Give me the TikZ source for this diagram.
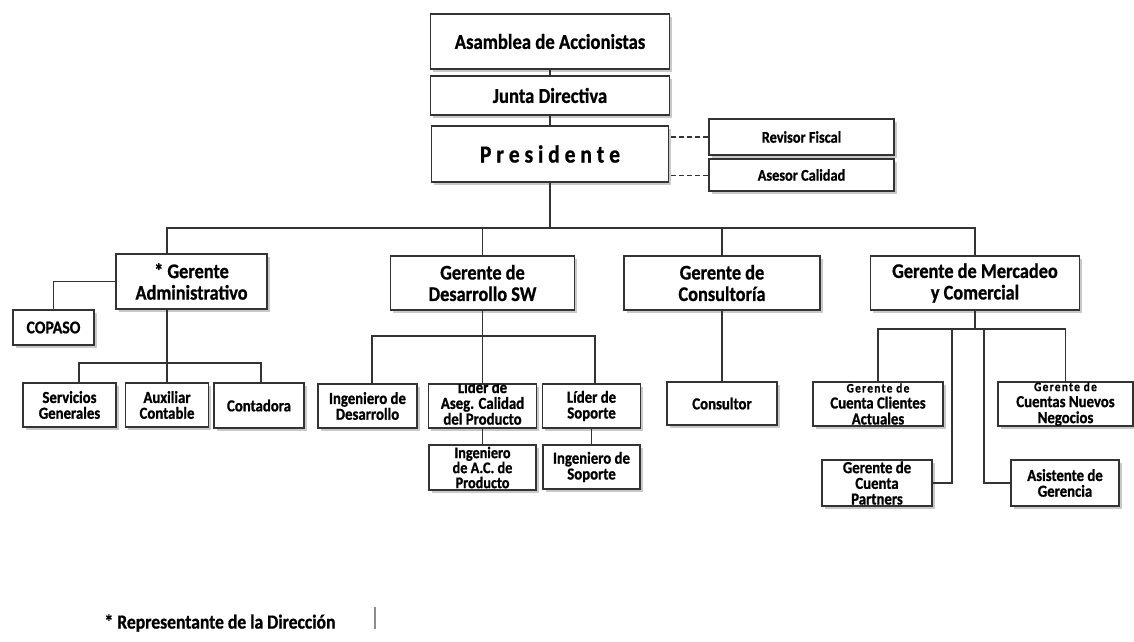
\documentclass[tikz,border=0pt]{standalone}
\usepackage{fontspec}
\setmainfont{Carlito}[FakeStretch=0.88, BoldFeatures={FakeBold=0.9}]
\usetikzlibrary{shadows}

\tikzset{
  rotulo/.style={inner sep=0pt, align=center, font=\fontsize{16.8}{15.8}\selectfont\bfseries},
  caja/.style={draw=black!80, line width=1.3pt, fill=white, rotulo,
    drop shadow={shadow xshift=2.5pt, shadow yshift=-2.5pt, fill=black!60, opacity=.35}},
  cima/.style={caja, font=\fontsize{21.2}{20}\selectfont\bfseries},
  asesoria/.style={caja, font=\fontsize{16.3}{16}\selectfont\bfseries},
  gerencia/.style={caja, minimum height=54, font=\fontsize{20.8}{21.5}\selectfont\bfseries},
  cargo/.style={caja, minimum height=44},
  linea/.style={draw=black!80, line width=1.3pt},
}

\begin{document}
\begin{tikzpicture}[x=1pt,y=-1pt]
    \path[use as bounding box, fill=white] (0,0) rectangle (1134,641);

    \node[cima, minimum width=239, minimum height=55] (asamblea) at (550,41.5) {Asamblea de Accionistas};
    \node[cima, minimum width=239, minimum height=39] (junta) at (550,95.5) {Junta Directiva};
    \node[cima, minimum width=237, minimum height=56, font=\fontsize{24.5}{24}\selectfont\bfseries] (presidente) at (550,154) {P r e s i d e n t e};
    \node[asesoria, minimum width=185, minimum height=36] (revisor) at (801.5,137) {Revisor Fiscal};
    \node[asesoria, minimum width=185, minimum height=32] (asesor) at (801.5,175) {Asesor Calidad};

    \node[gerencia, minimum width=151, minimum height=55] (gadmin) at (191.5,281.5) {* Gerente\\Administrativo};
    \node[gerencia, minimum width=184] (gdesarrollo) at (482.5,283) {Gerente de\\Desarrollo SW};
    \node[gerencia, minimum width=196] (gconsult) at (722,283) {Gerente de\\Consultoría};
    \node[gerencia, minimum width=209] (gmercadeo) at (975,283) {Gerente de Mercadeo\\y Comercial};

    \node[caja, minimum width=81, minimum height=35, font=\fontsize{17.9}{18}\selectfont\bfseries] (copaso) at (53.5,327.5) {COPASO};
    \node[cargo, minimum width=93] (servicios) at (69.5,405) {Servicios\\Generales};
    \node[cargo, minimum width=83] (auxiliar) at (167,405) {Auxiliar\\Contable};
    \node[cargo, minimum width=90, minimum height=45] (contadora) at (259,405.5) {Contadora};

    \node[cargo, minimum width=99] (ingdes) at (367.5,406) {Ingeniero de\\Desarrollo};
    \node[cargo, minimum width=108] (lideraseg) at (482.5,406) {};
    \begin{scope}
        \clip ([xshift=.7pt,yshift=.7pt]lideraseg.south west) rectangle ([xshift=-.7pt,yshift=-.7pt]lideraseg.north east);
        \node[rotulo] (lideraseg-txt) at (482.5,403) {Líder de\\Aseg. Calidad\\del Producto};
    \end{scope}
    \node[cargo, minimum width=98] (lidersop) at (591.5,406) {Líder de\\Soporte};
    \node[cargo, minimum width=107, minimum height=45, font=\fontsize{16.2}{15}\selectfont\bfseries] (ingac) at (482.5,467.5) {Ingeniero\\de A.C. de\\Producto};
    \node[cargo, minimum width=97] (ingsop) at (591.5,467) {Ingeniero de\\Soporte};

    \node[cargo, minimum width=110, minimum height=43] (consultor) at (722,403.5) {Consultor};

    \node[cargo, minimum width=130, font=\fontsize{16.8}{16}\selectfont\bfseries] (clientes) at (878,404) {{\fontsize{12.9}{16}\selectfont\addfontfeatures{LetterSpace=10}Gerente de}\\Cuenta Clientes\\Actuales};
    \node[cargo, minimum width=135, font=\fontsize{16.8}{16}\selectfont\bfseries] (nuevos) at (1065.5,404) {{\fontsize{12.9}{16}\selectfont\addfontfeatures{LetterSpace=10}Gerente de}\\Cuentas Nuevos\\Negocios};
    \node[cargo, minimum width=110, minimum height=46, font=\fontsize{16.8}{15.7}\selectfont\bfseries] (partners) at (877,483) {Gerente de\\Cuenta\\Partners};
    \node[cargo, minimum width=108, minimum height=46] (asistente) at (1065,483) {Asistente de\\Gerencia};

    \node[font=\fontsize{20}{18}\selectfont\bfseries] (nota) at (220,623) {* Representante de la Dirección};
    \draw[black!45, line width=1.5pt] (375,607) -- (375,629);

    \draw[linea] (asamblea) -- (junta);
    \draw[linea] (junta) -- (presidente);
    \draw[linea, line width=2.4pt, dash pattern=on 5pt off 3pt] (revisor) -- (revisor -| presidente.east);
    \draw[linea, line width=1pt, dash pattern=on 5pt off 3pt] (asesor) -- (asesor -| presidente.east);

    \coordinate (bus) at (550,228);
    \draw[linea] (presidente) -- (bus);
    \draw[linea] (bus) -| (gadmin.north -| auxiliar);
    \draw[linea] (bus) -| (gmercadeo.north);
    \foreach \g in {gdesarrollo,gconsult} \draw[linea] (\g) -- (\g |- bus);

    \coordinate (admbar) at (167,363);
    \draw[linea] (gadmin.west) -| (copaso);
    \draw[linea] (gadmin.south -| auxiliar) -- (auxiliar);
    \draw[linea] ([xshift=9.5pt]servicios.north) |- (admbar) -| ([xshift=2pt]contadora.north);

    \coordinate (desbar) at (482.5,336);
    \draw[linea] (gdesarrollo) -- (lideraseg);
    \draw[linea] ([xshift=4.5pt]ingdes.north) |- (desbar) -| ([xshift=3.5pt]lidersop.north);
    \draw[linea] (lideraseg) -- (ingac);
    \draw[linea] (lidersop) -- (ingsop);

    \draw[linea] (gconsult) -- (consultor);

    \coordinate (merbar) at (975,329);
    \coordinate (pbar) at (952,329);
    \coordinate (abar) at (984,329);
    \draw[linea] (gmercadeo) -- (merbar);
    \draw[linea] (clientes) |- (merbar) -| (nuevos);
    \draw[linea] (partners) -| (pbar);
    \draw[linea] (asistente) -| (abar);
\end{tikzpicture}
\end{document}
